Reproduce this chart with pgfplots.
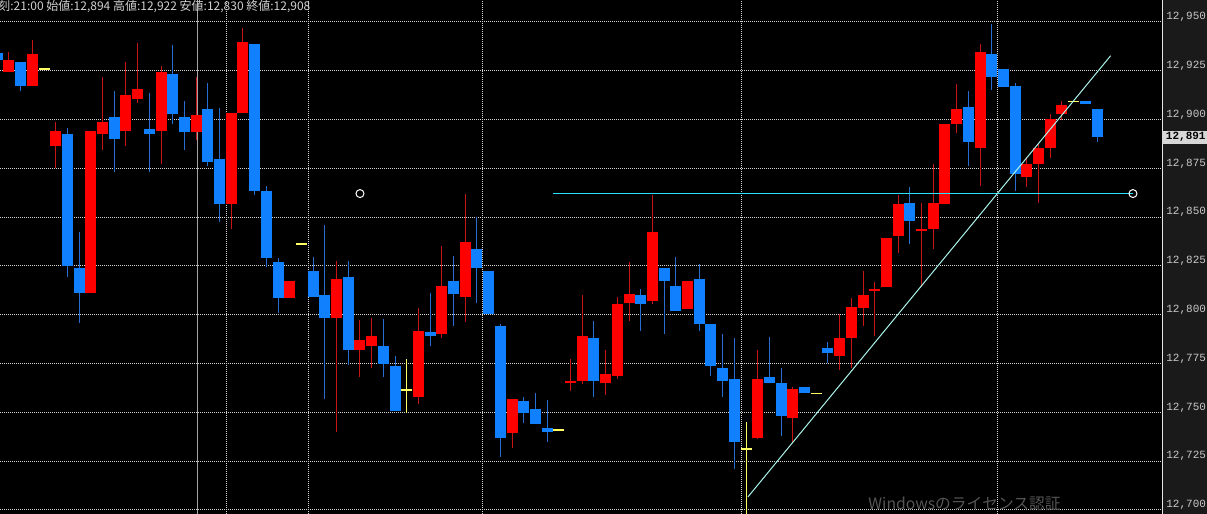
\documentclass[border=0pt]{standalone}
\usepackage{pgfplots}
\pgfplotsset{compat=1.18}
\usepackage{pgfplotstable}
\usepackage{fontspec}
\newfontfamily\jpfont{Noto Sans CJK JP}
\newfontfamily\monofont{Liberation Mono}

\definecolor{upred}{RGB}{255,0,0}
\definecolor{dnblue}{RGB}{16,128,255}
\definecolor{upwick}{RGB}{200,20,20}
\definecolor{dnwick}{RGB}{40,110,210}
\definecolor{doji}{RGB}{255,255,100}
\definecolor{gridc}{RGB}{215,215,215}
\definecolor{panel}{RGB}{26,26,26}
\definecolor{lbl}{RGB}{200,200,200}
\definecolor{hline}{RGB}{40,225,255}
\definecolor{trend}{RGB}{170,245,235}
\definecolor{wm}{RGB}{85,85,85}
\definecolor{boxg}{RGB}{215,215,215}

% candles: x = bar index, o h l c in price
\pgfplotstableread{
x o h l c
0 12924.4 12934.6 12924.4 12930.5
2 12917.2 12940.8 12917.2 12933.6
4 12886.5 12898.8 12875.2 12894.2
7 12811.2 12894.2 12811.2 12894.2
8 12892.6 12922.0 12884.4 12898.9
10 12894.2 12929.7 12886.5 12912.6
11 12910.6 12939.1 12908.7 12915.7
13 12894.2 12927.5 12877.3 12924.5
16 12893.8 12922.0 12889.5 12902.7
19 12856.9 12903.2 12844.0 12903.2
20 12903.4 12946.8 12903.4 12939.9
24 12808.5 12817.3 12808.5 12817.3
28 12798.2 12827.6 12740.1 12818.3
30 12782.1 12797.3 12768.0 12787.1
31 12784.2 12798.2 12772.9 12789.3
35 12758.0 12803.3 12754.3 12791.7
37 12790.3 12835.4 12788.3 12814.8
39 12809.3 12861.9 12796.5 12837.3
43 12739.3 12756.9 12732.0 12756.9
48 12765.2 12777.4 12761.0 12766.1
49 12766.1 12810.1 12764.4 12789.1
51 12765.2 12782.0 12759.3 12770.0
52 12768.8 12809.3 12767.1 12805.5
53 12806.2 12827.2 12796.8 12811.0
55 12807.2 12861.4 12805.5 12842.6
58 12803.1 12817.3 12803.1 12817.3
64 12737.0 12782.0 12736.2 12767.1
67 12747.3 12763.2 12734.2 12762.0
71 12778.9 12800.4 12771.7 12788.0
72 12788.3 12808.5 12772.6 12803.8
73 12803.3 12822.6 12794.4 12810.1
74 12812.3 12817.0 12789.1 12813.6
75 12814.4 12839.2 12814.4 12839.2
76 12840.5 12861.4 12831.5 12857.1
78 12843.1 12857.4 12814.4 12844.0
79 12844.0 12877.6 12833.6 12857.1
80 12857.1 12897.7 12857.1 12897.7
81 12897.7 12918.2 12893.0 12905.3
83 12885.6 12938.7 12866.1 12934.5
87 12870.7 12881.0 12865.6 12877.1
88 12877.3 12887.3 12857.4 12885.6
89 12885.6 12902.9 12880.2 12900.3
90 12902.9 12909.7 12899.8 12907.5
}\upT

\pgfplotstableread{
x o h l c
-1 12934.1 12934.1 12930.5 12930.5
1 12929.5 12929.5 12914.7 12917.2
5 12892.6 12895.7 12819.4 12825.0
6 12824.0 12842.4 12795.8 12811.2
9 12901.3 12914.8 12873.3 12890.2
12 12895.2 12913.5 12873.3 12892.8
14 12923.4 12938.2 12897.7 12903.0
15 12901.3 12909.5 12884.4 12893.8
17 12905.4 12918.6 12876.4 12878.4
18 12879.8 12905.9 12847.7 12856.9
21 12938.7 12938.7 12861.4 12863.6
22 12863.4 12866.1 12824.6 12829.3
23 12826.9 12829.3 12801.1 12808.5
26 12822.4 12829.5 12809.3 12809.3
27 12810.1 12846.0 12756.9 12798.2
29 12819.4 12827.6 12774.1 12782.1
32 12784.2 12798.2 12768.0 12774.9
33 12773.9 12779.0 12750.9 12750.9
36 12791.2 12811.3 12784.0 12789.3
38 12817.3 12830.1 12794.3 12810.5
40 12833.7 12850.3 12805.9 12824.1
41 12822.4 12822.4 12800.6 12800.6
42 12794.3 12795.3 12727.0 12737.0
44 12755.8 12757.9 12744.5 12749.9
45 12751.7 12760.2 12744.2 12744.2
46 12742.2 12756.2 12734.7 12740.1
50 12788.0 12796.8 12757.7 12766.1
54 12810.1 12813.2 12791.9 12805.5
56 12823.8 12823.8 12790.0 12817.5
57 12814.8 12829.5 12802.1 12802.1
59 12818.3 12826.0 12791.7 12795.4
60 12795.3 12795.3 12768.8 12774.1
61 12772.6 12790.2 12757.7 12766.2
62 12767.0 12788.3 12720.8 12735.0
65 12768.0 12788.5 12765.2 12765.2
66 12765.2 12772.9 12737.9 12748.3
68 12762.9 12762.9 12760.1 12760.1
70 12782.8 12786.2 12775.2 12780.3
77 12857.1 12865.6 12836.6 12848.2
82 12906.3 12914.8 12876.4 12888.7
84 12933.6 12949.0 12915.2 12922.0
85 12925.8 12925.8 12916.9 12916.9
86 12917.2 12919.1 12863.6 12872.5
92 12909.5 12909.5 12907.8 12907.8
93 12905.4 12905.4 12888.7 12891.0
}\dnT

\pgfplotstableread{
x o h l c
3 12925.9 12925.9 12925.9 12925.9
25 12836.3 12836.3 12836.3 12836.3
34 12761.8 12777.4 12749.8 12761.8
47 12741.0 12741.0 12741.0 12741.0
63 12731.6 12744.9 12690.0 12731.6
69 12759.8 12759.8 12759.8 12759.8
91 12909.5 12909.5 12909.5 12909.5
}\djT

\pgfplotsset{
  wick/.style={draw=none, mark=none, error bars/.cd, y dir=both, y explicit, error mark=none,
    error bar style={draw=#1, line width=0.5pt}},
  body/.style={draw=none, mark=none, error bars/.cd, y dir=both, y explicit, error mark=none,
    error bar style={draw=#1, line width=5.5pt}},
}

\begin{document}
\begin{tikzpicture}
\path[use as bounding box] (0,0) rectangle (603.5pt,257pt);
\fill[panel] (581pt,0) rectangle (603.5pt,257pt);
\begin{axis}[
    at={(0,0)}, anchor=south west,
    scale only axis, width=581pt, height=257pt,
    xmin=-0.769, xmax=98.55, ymin=12697.95, ymax=12961.27,
    axis background/.style={fill=black},
    axis line style={draw=none},
    ytick={12700,12725,...,12950},
    xtick={18.63,25.56,40.51,62.65,84.53},
    xticklabels={},
    major tick length=0pt,
    grid=major,
    major grid style={gridc, line width=0.5pt, dash pattern=on 0.5pt off 0.5pt},
    scaled y ticks=false,
    yticklabel pos=right,
    yticklabel style={font=\monofont\fontsize{5.5}{6}\selectfont, text=lbl,
        anchor=west, inner sep=0pt, xshift=2pt, yshift=2.5pt,
        /pgf/number format/.cd, fixed, 1000 sep={,}, assume math mode=true},
]
% cursor line
\addplot[color=white!65!black, line width=0.5pt] coordinates {(16.07,12690) (16.07,12970)};

% wicks
\addplot[wick=upwick] table[x=x, y expr={(\thisrow{h}+\thisrow{l})/2}, y error expr={(\thisrow{h}-\thisrow{l})/2}] {\upT};
\addplot[wick=dnwick] table[x=x, y expr={(\thisrow{h}+\thisrow{l})/2}, y error expr={(\thisrow{h}-\thisrow{l})/2}] {\dnT};
\addplot[wick=doji] table[x=x, y expr={(\thisrow{h}+\thisrow{l})/2}, y error expr={(\thisrow{h}-\thisrow{l})/2}] {\djT};

% bodies
\addplot[body=upred] table[x=x, y expr={(\thisrow{o}+\thisrow{c})/2}, y error expr={max(abs(\thisrow{c}-\thisrow{o})/2,0.6)}] {\upT};
\addplot[body=dnblue] table[x=x, y expr={(\thisrow{o}+\thisrow{c})/2}, y error expr={max(abs(\thisrow{c}-\thisrow{o})/2,0.6)}] {\dnT};
\addplot[body=doji] table[x=x, y expr={(\thisrow{o}+\thisrow{c})/2}, y error expr={0.3}] {\djT};

% drawn objects
\addplot[color=hline, line width=0.6pt] coordinates {(46.5,12862.1) (96.07,12862.1)};
\addplot[color=trend, line width=0.5pt] coordinates {(63.16,12706.7) (94.16,12932.7)};
\addplot[only marks, mark=o, mark size=2pt, color=white, mark options={fill=black, line width=0.5pt}]
    coordinates {(30.0,12862.1) (96.07,12862.1)};

\coordinate (pb) at (axis cs:98.55,12891);
\coordinate (tl) at (axis cs:-0.769,12961.27);
\end{axis}
\draw[white!90!black, line width=0.5pt] (581pt,0) -- (581pt,257pt);
\fill[boxg] ([yshift=-3.3pt]pb) rectangle ++(22.5pt,6.6pt);
\node[anchor=east, inner sep=0pt, font=\monofont\bfseries\fontsize{5.5}{6}\selectfont, text=black]
    at ([xshift=22pt]pb) {12,891};
\node[anchor=north west, inner sep=0pt, font=\jpfont\fontsize{6.0}{6.5}\selectfont, text=white!82!black]
    at ([xshift=-1pt, yshift=-0.2pt]tl) {刻:21:00 始値:12,894 高値:12,922 安値:12,830 終値:12,908};
\node[anchor=base west, inner sep=0pt, font=\jpfont\fontsize{7.85}{9}\selectfont, text=wm]
    at (434pt,2pt) {Windowsのライセンス認証};
\end{tikzpicture}
\end{document}
